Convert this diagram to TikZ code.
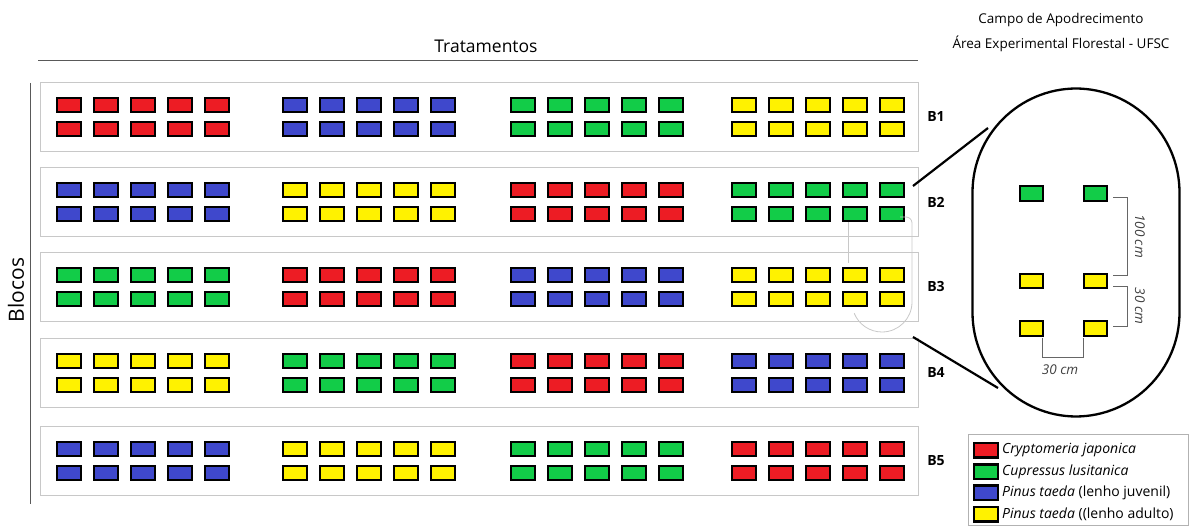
\documentclass[tikz,border=0pt]{standalone}
\usepackage{fontspec}
\setmainfont{Open Sans}
\definecolor{Cjap}{HTML}{ED1C24}
\definecolor{Clus}{HTML}{12CC48}
\definecolor{Ptju}{HTML}{3F48CC}
\definecolor{Ptad}{HTML}{FFF200}
\definecolor{Linha}{HTML}{C8C8C8}

\tikzset{
  parcela/.style={draw=black, line width=2.4pt, minimum width=23.5pt, minimum height=14.5pt, inner sep=0pt},
  bloco/.style={draw=Linha, line width=0.8pt},
  rotulo/.style={font=\bfseries\fontsize{14}{16}\selectfont},
  cota/.style={draw=gray!80!black, line width=0.5pt},
  cotatxt/.style={font=\itshape\fontsize{13.5}{15}\selectfont, text=black!75}
}

\begin{document}
\begin{tikzpicture}[x=1pt,y=-1pt]
    \useasboundingbox (0,0) rectangle (1192,529);

    % Titulo
    \node (campo) at (1061,20) {\fontsize{13.5}{16}\selectfont Campo de Apodrecimento};
    \node (area) at (1061,44) {\fontsize{13.5}{16}\selectfont Área Experimental Florestal - UFSC};

    % Eixos
    \node (trat) at (486,46) {\fontsize{17.5}{20}\selectfont Tratamentos};
    \coordinate (tA) at (38,61);
    \coordinate (tB) at (918,61);
    \draw[gray!70!black, line width=1pt] (tA) -- (tB);
    \coordinate (bA) at (30,83);
    \coordinate (bB) at (30,504);
    \draw[gray!70!black, line width=1pt] (bA) -- (bB);
    \node[rotate=90] (blocos) at (16,290) {\fontsize{21}{23}\selectfont Blocos};

    % Blocos e parcelas
    \foreach \b/\ya/\yb/\ca/\cb/\cc/\cd in {1/105/129/Cjap/Ptju/Clus/Ptad,
                                          2/190/214/Ptju/Ptad/Cjap/Clus,
                                          3/275/299/Clus/Cjap/Ptju/Ptad,
                                          4/361/385/Ptad/Clus/Cjap/Ptju,
                                          5/449/473/Ptju/Ptad/Clus/Cjap} {
      \draw[bloco] (40,\ya-23) rectangle (918,\yb+22);
      \node[rotulo] (B\b) at (936,\ya+12) {B\b};
      \foreach \g/\xg/\cor in {0/56/\ca,1/282/\cb,2/510/\cc,3/731/\cd} {
        \foreach \c in {0,...,4} {
          \node[parcela, fill=\cor] (p\b-\g-a\c) at (\xg+13+37*\c,\ya) {};
          \node[parcela, fill=\cor] (p\b-\g-b\c) at (\xg+13+37*\c,\yb) {};
        }
      }
    }

    % Regiao ampliada
    \draw[Linha, line width=0.8pt] (848,222) -- (848,263);
    \draw[Linha, line width=0.8pt] (900,217) -- (906,217)
      arc[start angle=-90, end angle=0, radius=6] -- (912,302)
      arc[start angle=0, end angle=158, radius=30];
    \node[draw, line width=2.3pt, rounded corners=104pt, minimum width=207pt, minimum height=328pt,
          inner sep=0pt] (lupa) at (1076,252.5) {};
    \coordinate (zA) at (913,186);
    \coordinate (zB) at (988,128);
    \coordinate (zC) at (913,337);
    \coordinate (zD) at (998,388);
    \draw[line width=2.2pt] (zA) -- (zB);
    \draw[line width=2.2pt] (zC) -- (zD);

    % Detalhe das parcelas
    \node[parcela, fill=Clus] (d1) at (1031.5,193.5) {};
    \node[parcela, fill=Clus] (d2) at (1095.5,193.5) {};
    \node[parcela, fill=Ptad] (d3) at (1031.5,281) {};
    \node[parcela, fill=Ptad] (d4) at (1095.5,281) {};
    \node[parcela, fill=Ptad] (d5) at (1031.5,328.5) {};
    \node[parcela, fill=Ptad] (d6) at (1095.5,328.5) {};

    % Cotas
    \draw[cota] (1113,197) -- (1127,197) -- (1127,275) -- (1113,275);
    \node[cotatxt, rotate=-90] (c100) at (1140,236) {100 cm};
    \draw[cota] (1113,286) -- (1127,286) -- (1127,326) -- (1113,326);
    \node[cotatxt, rotate=-90] (c30v) at (1140,306) {30 cm};
    \draw[cota] (1042,338) -- (1042,357) -- (1083,357) -- (1083,338);
    \node[cotatxt] (c30h) at (1060,370) {30 cm};

    % Legenda
    \node[draw=gray!60, line width=0.8pt, minimum width=220pt, minimum height=91pt, inner sep=0pt] (leg) at (1078,480) {};
    \foreach \cor/\txt [count=\i] in {Cjap/{\itshape Cryptomeria japonica},
                                      Clus/{\itshape Cupressus lusitanica},
                                      Ptju/{\itshape Pinus taeda} (lenho juvenil),
                                      Ptad/{\itshape Pinus taeda} ((lenho adulto)} {
      \node[parcela, fill=\cor] (s\i) at (986,429+21.3*\i) {};
      \node[anchor=west, inner sep=0pt, font=\fontsize{14}{16}\selectfont] (l\i) at (1002,429+21.3*\i) {\txt};
    }
  \end{tikzpicture}
\end{document}
